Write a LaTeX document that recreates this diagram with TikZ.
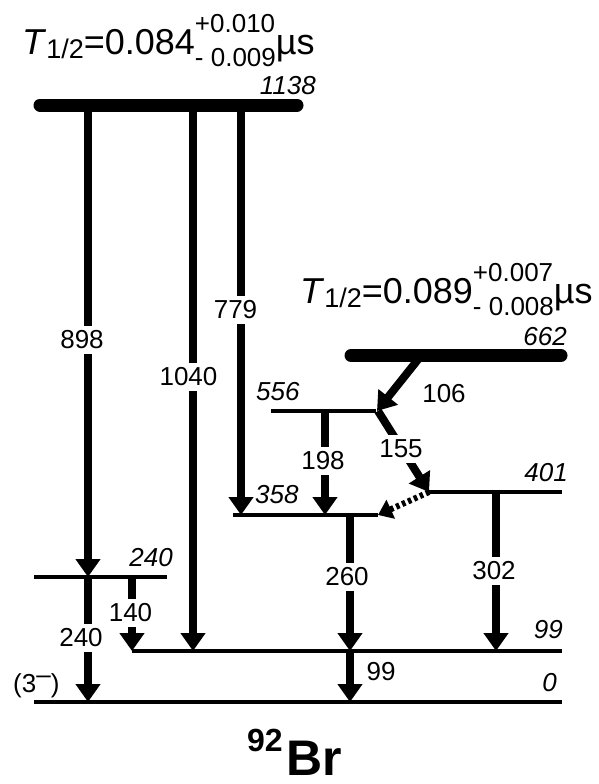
\documentclass[tikz,border=0pt]{standalone}
\usepackage{fontspec}
\setmainfont{Liberation Sans}
\usetikzlibrary{arrows.meta, positioning}

\newcommand{\fsz}[1]{\fontsize{#1}{#1}\selectfont}
\newcommand{\halflife}[3]{\textit{T}\raisebox{-4pt}{\fsz{27}1/2}=#1\rlap{\raisebox{22pt}{\fsz{26}#2}}\raisebox{-12pt}{\fsz{26}#3}µs}

\tikzset{
    lvl/.style={line width=3.5pt},
    isomer/.style={line width=13pt, line cap=round},
    gam/.style={line width=8pt, -{Triangle[width=24pt,length=18pt]}},
    gamdot/.style={line width=6pt, dash pattern=on 3.5pt off 3pt, -{Triangle[width=20pt,length=14pt]}},
    elab/.style={font=\fsz{26}\itshape, inner sep=0pt},
    glab/.style={font=\fsz{26}, fill=white, inner xsep=2pt, inner ysep=5pt},
}

\begin{document}
\begin{tikzpicture}[x=1pt, y=-1pt]
    \useasboundingbox (0,0) rectangle (598,784);

    % Level heights
    \foreach \e/\yy in {1138/105, 662/355.5, 556/411, 401/492, 358/515, 240/577, 99/651, 0/702} {
        \coordinate (L\e) at (0,\yy);
    }

    % Gamma transitions
    \draw[gam] (88,0 |- L1138) -- (88,0 |- L240);
    \draw[gam] (88,0 |- L240) -- (88,0 |- L0);
    \draw[gam] (193,0 |- L1138) -- (193,0 |- L99);
    \draw[gam] (241,0 |- L1138) -- (241,0 |- L358);
    \draw[gam] (420,357) -- (377,0 |- L556);
    \draw[gam] (325,0 |- L556) -- (325,0 |- L358);
    \draw[gam] (378,0 |- L556) -- (429,0 |- L401);
    \draw[gamdot] (429,0 |- L401) -- (378,0 |- L358);
    \draw[gam] (350,0 |- L358) -- (350,0 |- L99);
    \draw[gam] (496,0 |- L401) -- (496,0 |- L99);
    \draw[gam] (132,0 |- L240) -- (132,0 |- L99);
    \draw[gam] (350,0 |- L99) -- (350,0 |- L0);

    % Gamma energies
    \node[glab] (g898) at (82,340) {898};
    \node[glab] (g240) at (81,638) {240};
    \node[glab] (g1040) at (188.5,377) {1040};
    \node[glab] (g779) at (235.5,310) {779};
    \node[glab] (g198) at (323,461) {198};
    \node[glab] (g155) at (401,449) {155};
    \node[glab] (g260) at (347,577) {260};
    \node[glab] (g302) at (494,571) {302};
    \node[glab] (g140) at (130.5,613) {140};
    \node[font=\fsz{26}] (g106) at (444,394) {106};
    \node[font=\fsz{26}] (g99) at (381,672) {99};

    % Levels
    \draw[isomer] (40,0 |- L1138) -- (297,0 |- L1138);
    \draw[isomer] (351,0 |- L662) -- (561,0 |- L662);
    \draw[lvl] (271,0 |- L556) -- (376,0 |- L556);
    \draw[lvl] (429,0 |- L401) -- (562,0 |- L401);
    \draw[lvl] (233,0 |- L358) -- (378,0 |- L358);
    \draw[lvl] (34,0 |- L240) -- (167,0 |- L240);
    \draw[lvl] (132,0 |- L99) -- (562,0 |- L99);
    \draw[lvl] (34,0 |- L0) -- (562,0 |- L0);

    % Level energies
    \node[elab, anchor=base east] (e1138) at (316,94) {1138};
    \node[elab, anchor=base east] (e662) at (567,345) {662};
    \node[elab, anchor=base west] (e556) at (256,400) {556};
    \node[elab, anchor=base east] (e401) at (568,481) {401};
    \node[elab, anchor=base west] (e358) at (255,503) {358};
    \node[elab, anchor=base east] (e240) at (173,566) {240};
    \node[elab, anchor=base east] (e99) at (563,638) {99};
    \node[elab, anchor=base east] (e0) at (557,691) {0};
    \node[font=\fsz{26}, anchor=base west, inner sep=0pt] (spin) at (13,692) {(3\raisebox{9pt}{–})};

    % Half-lives
    \node[font=\fsz{36}, anchor=base west, inner sep=0pt] (hl1138) at (22,55) {\halflife{0.084}{+0.010}{- 0.009}};
    \node[font=\fsz{36}, anchor=base west, inner sep=0pt] (hl662) at (300,303) {\halflife{0.089}{+0.007}{- 0.008}};

    % Nucleus
    \node[font=\bfseries\fsz{50}, anchor=base west, inner sep=0pt] (nucl) at (247,775) {\raisebox{24pt}{\fsz{32}92}\kern4pt Br};
\end{tikzpicture}
\end{document}
